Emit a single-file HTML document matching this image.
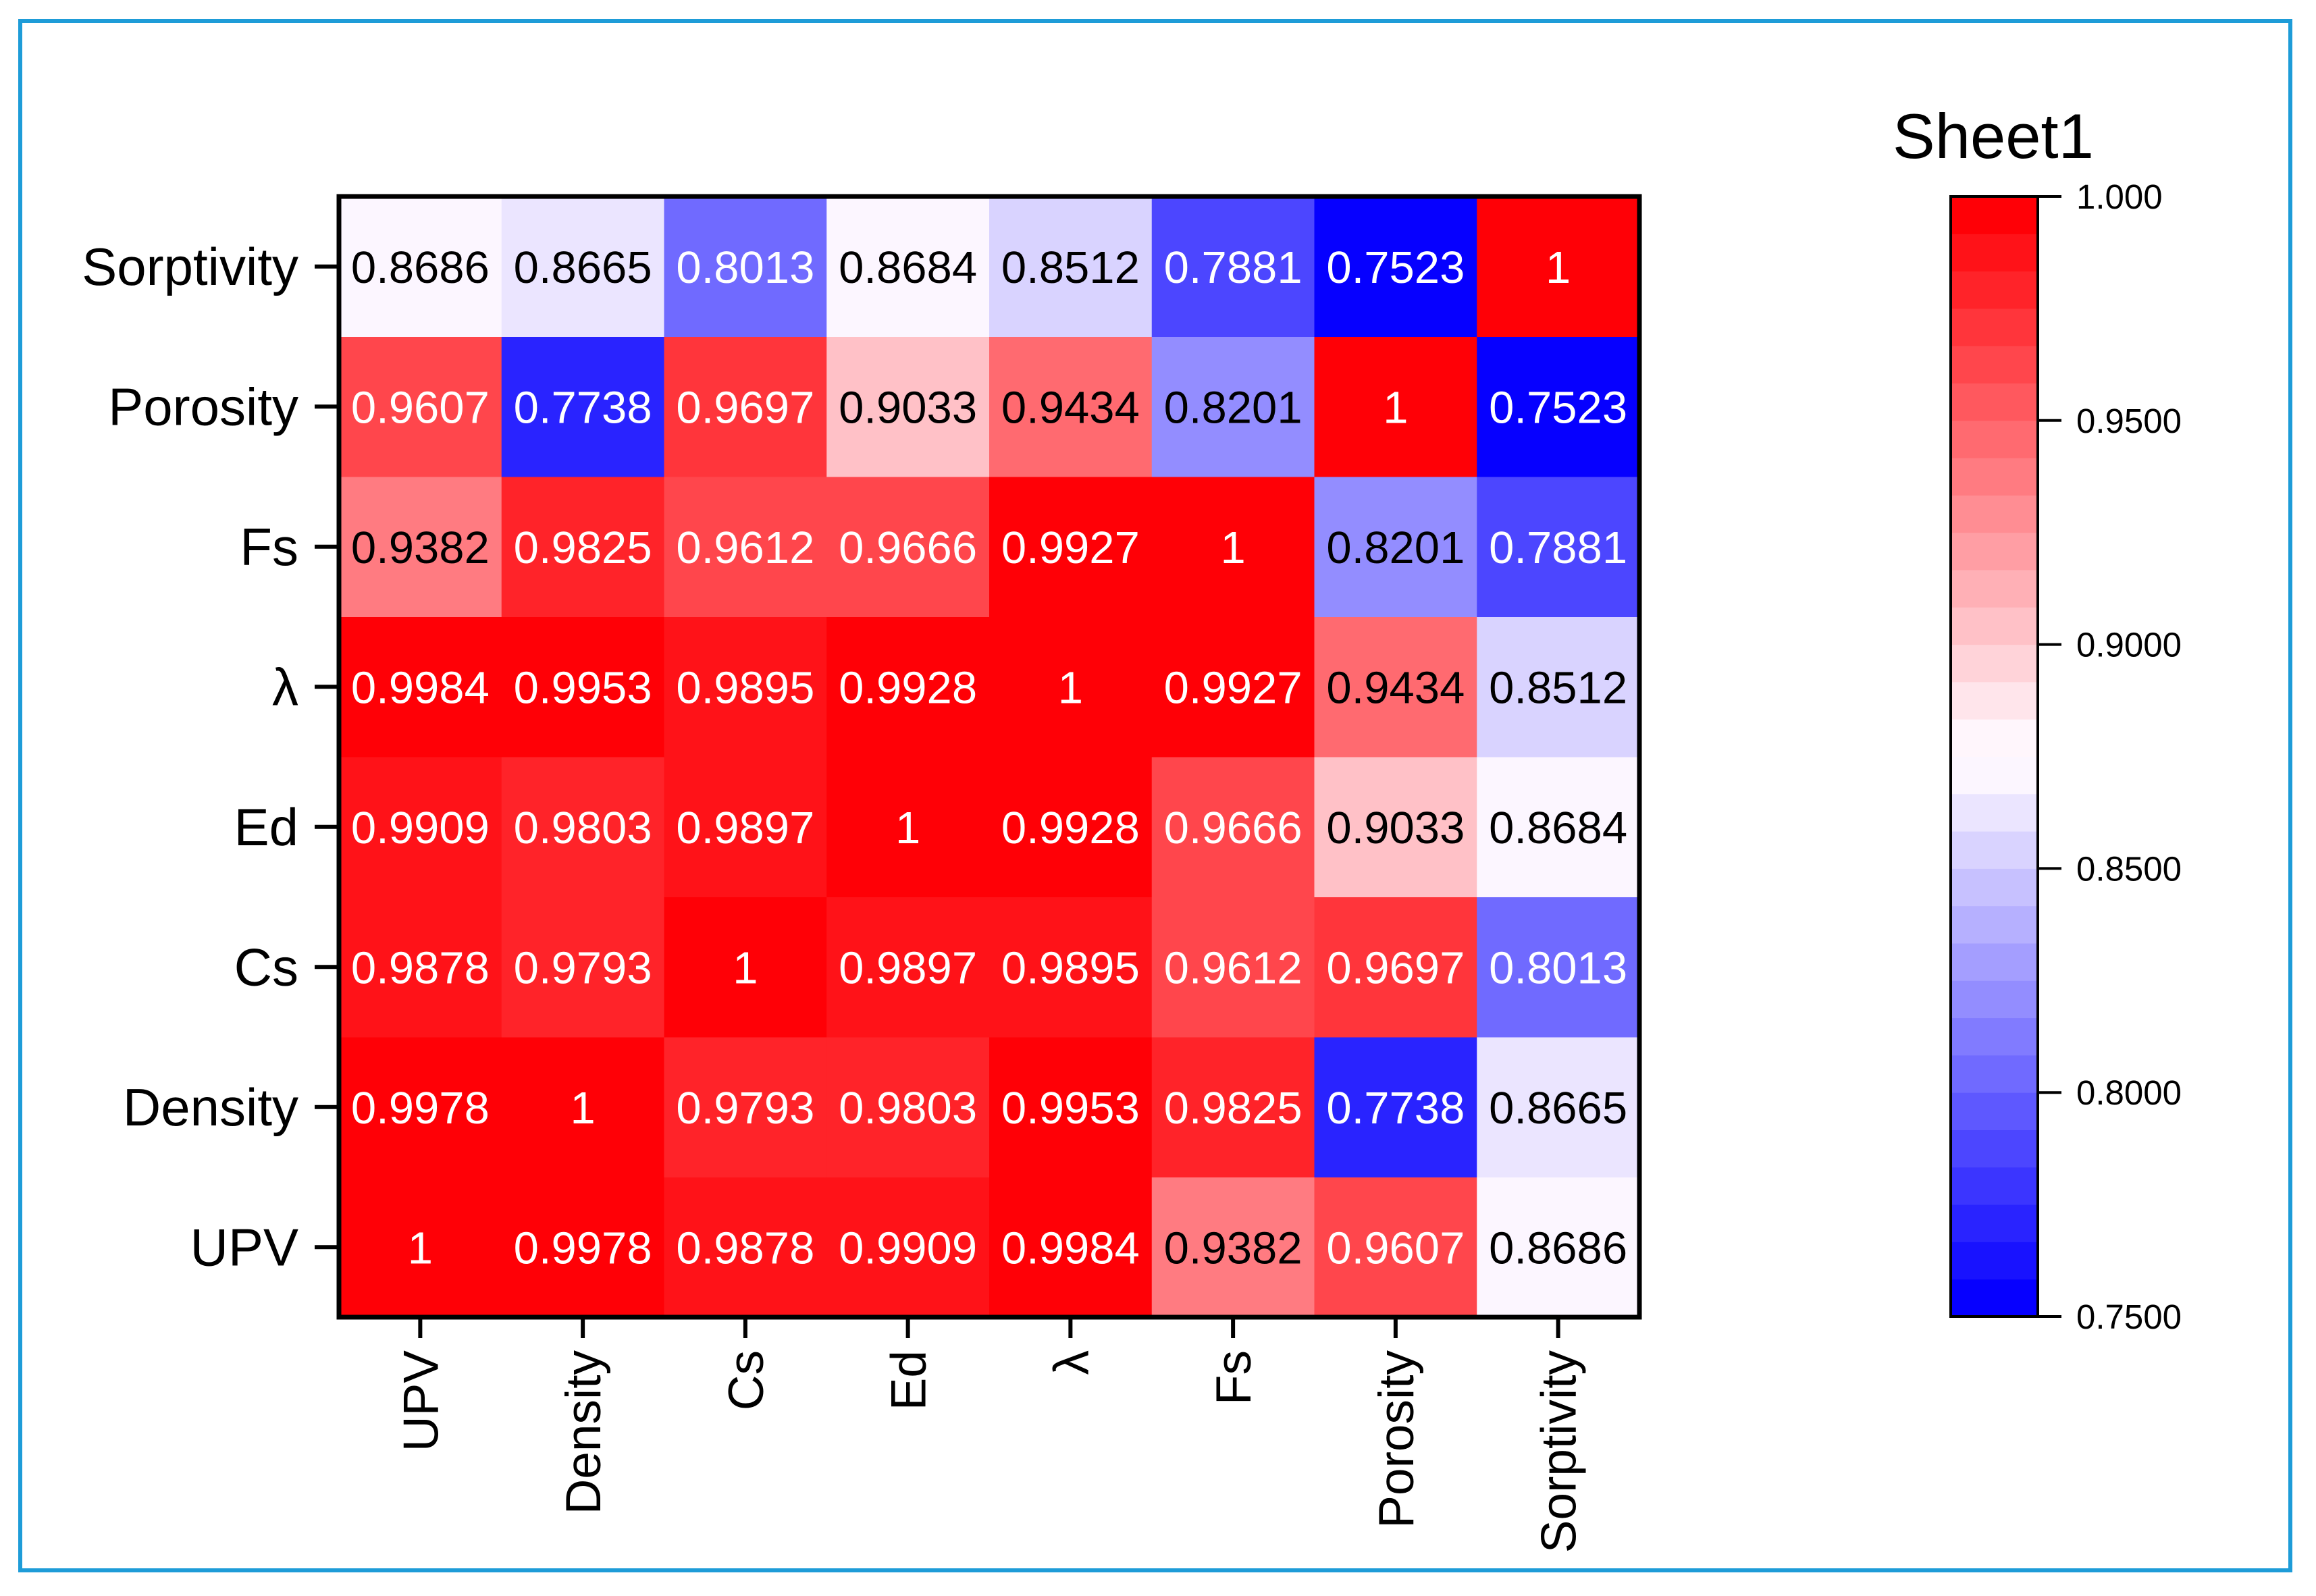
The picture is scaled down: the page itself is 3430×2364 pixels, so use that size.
<!DOCTYPE html>
<html><head><meta charset="utf-8"><style>
html,body{margin:0;padding:0;background:#fff;}
svg{display:block;font-family:"Liberation Sans",Arial,sans-serif;}
</style></head><body>
<svg id="chart" width="3430" height="2364" viewBox="0 0 3430 2364" xmlns="http://www.w3.org/2000/svg">
<rect x="30" y="31" width="3362" height="2295" fill="#fff" stroke="#1e9cd8" stroke-width="6"/>
<g id="cells"></g>
<g id="axes"></g>
<g id="legend"></g>
</svg>
<script>
const labels = ["UPV","Density","Cs","Ed","λ","Fs","Porosity","Sorptivity"];
const rowUPV = [1,0.9978,0.9878,0.9909,0.9984,0.9382,0.9607,0.8686];
const rowDensity = [0.9978,1,0.9793,0.9803,0.9953,0.9825,0.7738,0.8665];
const rowCs = [0.9878,0.9793,1,0.9897,0.9895,0.9612,0.9697,0.8013];
const rowEd = [0.9909,0.9803,0.9897,1,0.9928,0.9666,0.9033,0.8684];
const rowLambda = [0.9984,0.9953,0.9895,0.9928,1,0.9927,0.9434,0.8512];
const rowFs = [0.9382,0.9825,0.9612,0.9666,0.9927,1,0.8201,0.7881];
const rowPorosity = [0.9607,0.7738,0.9697,0.9033,0.9434,0.8201,1,0.7523];
const rowSorptivity = [0.8686,0.8665,0.8013,0.8684,0.8512,0.7881,0.7523,1];
const matrix = [rowUPV,rowDensity,rowCs,rowEd,rowLambda,rowFs,rowPorosity,rowSorptivity];
const colorTicks = [1.0,0.95,0.9,0.85,0.8,0.75];
const colorTickLabels = ["1.000","0.9500","0.9000","0.8500","0.8000","0.7500"];
const vMin = 0.75, vMax = 1.0, nLevels = 30;

const NS = "http://www.w3.org/2000/svg";
const PL = 502, PR = 2428, PT = 291, PB = 1951;
const cw = (PR-PL)/labels.length, ch = (PB-PT)/labels.length;
function xPos(i){return PL + i*cw;}
function yPos(j){return PB - (j+1)*ch;}
function el(tag, attrs, parent){const e=document.createElementNS(NS,tag);for(const k in attrs)e.setAttribute(k,attrs[k]);parent.appendChild(e);return e;}
function levelColor(k){
  const c = k/(nLevels-1);
  if(c<0.5){const v=Math.round(255*c/0.5);return `rgb(${Math.min(255,v+6)},${v},255)`;}
  const v=Math.round(255*(1-(c-0.5)/0.5));return `rgb(255,${v},${Math.min(255,v+6)})`;
}
function colorOf(v){
  let k=Math.floor((v-vMin)/(vMax-vMin)*nLevels);
  k=Math.max(0,Math.min(nLevels-1,k));
  return levelColor(k);
}
const cells=document.getElementById('cells');
const axes=document.getElementById('axes');
const legend=document.getElementById('legend');
matrix.forEach((row,j)=>{
  row.forEach((v,i)=>{
    const r=el('rect',{x:xPos(i),y:yPos(j),width:cw+0.5,height:ch+0.5,fill:colorOf(v)},cells);
    
    
    const t=el('text',{x:xPos(i)+cw/2,y:yPos(j)+ch/2+24,'text-anchor':'middle','font-size':67,fill:(v>0.95||v<0.81)?'#fff':'#000'},cells);
    t.textContent=String(v);
    
    
  });
});
const frame=el('rect',{x:PL,y:PT,width:PR-PL,height:PB-PT,fill:'none',stroke:'#000','stroke-width':7},axes);


labels.forEach((lab,j)=>{
  const yc=yPos(j)+ch/2;
  const tk=el('line',{x1:466,x2:PL,y1:yc,y2:yc,stroke:'#000','stroke-width':6},axes);
  
  
  const t=el('text',{x:442,y:yc+27,'text-anchor':'end','font-size':78,fill:'#000'},axes);
  t.textContent=lab;
  
  
});
labels.forEach((lab,i)=>{
  const xc=xPos(i)+cw/2;
  const tk=el('line',{x1:xc,x2:xc,y1:PB,y2:1982,stroke:'#000','stroke-width':6},axes);
  
  
  const t=el('text',{x:0,y:0,'text-anchor':'end','font-size':73,fill:'#000',transform:`translate(${xc+26},2000) rotate(-90)`},axes);
  t.textContent=lab;
  
  
});
// color bar
const CL=2889, CR=3018, CT=291, CB=1950;
const bh=(CB-CT)/nLevels;
for(let k=0;k<nLevels;k++){
  const r=el('rect',{x:CL,y:CB-(k+1)*bh,width:CR-CL,height:bh+0.5,fill:levelColor(k)},legend);
  
  
}
const cf=el('rect',{x:CL,y:CT,width:CR-CL,height:CB-CT,fill:'none',stroke:'#000','stroke-width':4},legend);


function cy(v){return CB-(v-vMin)/(vMax-vMin)*(CB-CT);}
colorTicks.forEach((v,i)=>{
  const y=cy(v);
  const tk=el('line',{x1:CR,x2:3053,y1:y,y2:y,stroke:'#000','stroke-width':4},legend);
  
  
  const t=el('text',{x:3075,y:y+18,'font-size':51,fill:'#000'},legend);
  t.textContent=colorTickLabels[i];
  
  
});
const title=el('text',{x:2803,y:234,'font-size':94,fill:'#000'},legend);
title.textContent='Sheet1';


</script>
</body></html>
